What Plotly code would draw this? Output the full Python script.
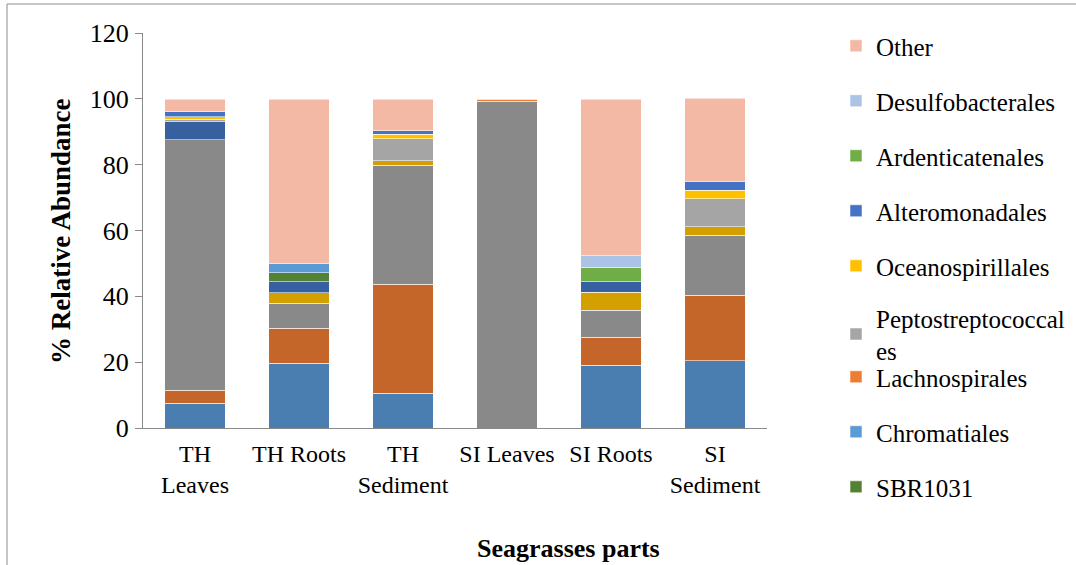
import plotly.graph_objects as go

# Sample sites along the x axis
categories = ["TH<br>Leaves", "TH Roots", "TH<br>Sediment", "SI Leaves", "SI Roots", "SI<br>Sediment"]

# % relative abundance per order, stacked bottom -> top
order_a = [7.5, 19.7, 10.5, 0, 19.1, 20.4]
order_b = [4.0, 10.6, 33.2, 0, 8.5, 19.9]
order_c = [76.0, 7.6, 36.1, 99.2, 8.1, 18.2]
order_d = [0, 3.2, 1.4, 0, 5.6, 2.7]
order_e = [5.6, 3.3, 0, 0, 3.1, 0]
lachnospirales = [0, 0, 0, 0.5, 0, 0]
peptostreptococcales = [0.7, 0, 6.7, 0, 0, 8.5]
oceanospirillales = [0.8, 0, 1.3, 0, 0, 2.6]
alteromonadales = [1.5, 0, 1.1, 0, 0, 2.7]
sbr1031 = [0, 2.8, 0, 0, 0, 0]
ardenticatenales = [0, 0, 0, 0, 4.5, 0]
chromatiales = [0, 2.7, 0, 0, 0, 0]
desulfobacterales = [0, 0, 0, 0, 3.4, 0]
other = [3.8, 50.0, 9.5, 0.4, 47.6, 25.2]

y_ticks = [0, 20, 40, 60, 80, 100, 120]

# (name, values, colour, legend position or None when not listed)
series = [
    ("Order A", order_a, "#4A7EB0", None),
    ("Order B", order_b, "#C4652A", None),
    ("Order C", order_c, "#898989", None),
    ("Order D", order_d, "#D4A000", None),
    ("Order E", order_e, "#3760A0", None),
    ("Lachnospirales", lachnospirales, "#ED7D31", 6),
    ("Peptostreptococcal<br>es", peptostreptococcales, "#A5A5A5", 5),
    ("Oceanospirillales", oceanospirillales, "#FFC000", 4),
    ("Alteromonadales", alteromonadales, "#4472C4", 3),
    ("SBR1031", sbr1031, "#548235", 8),
    ("Ardenticatenales", ardenticatenales, "#70AD47", 2),
    ("Chromatiales", chromatiales, "#5B9BD5", 7),
    ("Desulfobacterales", desulfobacterales, "#ABC4E6", 1),
    ("Other", other, "#F4B9A5", 0),
]

# Plot-area geometry in pixels (used to place legend rows)
W, H = 1076, 565
L, R, T, B = 143, 309, 33, 137
plot_w = W - L - R
plot_h = H - T - B

# Vertical centre of each legend row in pixels
legend_rows = [46, 101, 156, 211, 266, 334, 377, 432, 487]

FONT = "Liberation Serif, Times New Roman, serif"

fig = go.Figure()
for name, vals, color, pos in series:
    legend_id = "legend"
    if pos is not None and pos > 0:
        legend_id = f"legend{pos + 1}"
    plain = name.replace("<br>", "")
    fig.add_trace(go.Bar(
        x=categories,
        y=[v if v else None for v in vals],
        name=name,
        marker=dict(color=color, line=dict(color="rgba(255,255,255,0.55)", width=1)),
        showlegend=pos is not None,
        legend=legend_id,
        hovertemplate="%{x}: %{y}%<extra>" + plain + "</extra>",
    ))

legend_layout = {}
for i, py in enumerate(legend_rows):
    key = "legend" if i == 0 else f"legend{i + 1}"
    legend_layout[key] = dict(
        x=(836 - L) / plot_w,
        xanchor="left",
        y=(H - B - py) / plot_h,
        yanchor="middle",
        bgcolor="rgba(0,0,0,0)",
        font=dict(family=FONT, size=25, color="black"),
        itemclick=False,
        itemdoubleclick=False,
    )

fig.update_layout(
    width=W,
    height=H,
    margin=dict(l=L, r=R, t=T, b=B, autoexpand=False),
    barmode="stack",
    bargap=0.42,
    plot_bgcolor="white",
    paper_bgcolor="white",
    font=dict(family=FONT, size=24, color="black"),
    xaxis=dict(
        showline=True,
        linecolor="#8A8A8A",
        linewidth=1,
        ticks="",
        showgrid=False,
        ticklabelstandoff=4,
        tickfont=dict(family=FONT, size=24, color="black"),
    ),
    yaxis=dict(
        range=[0, 120],
        tickvals=y_ticks,
        showline=True,
        linecolor="#8A8A8A",
        linewidth=1,
        ticks="outside",
        ticklen=7,
        tickcolor="#8A8A8A",
        showgrid=False,
        zeroline=False,
        ticklabelstandoff=1,
        tickfont=dict(family=FONT, size=26, color="black"),
    ),
    annotations=[
        dict(
            text="<b>% Relative Abundance</b>", textangle=-90,
            xref="paper", yref="paper",
            x=(61 - L) / plot_w, y=(H - B - 231) / plot_h,
            xanchor="center", yanchor="middle", showarrow=False,
            font=dict(family=FONT, size=27, color="black"),
        ),
        dict(
            text="<b>Seagrasses parts</b>",
            xref="paper", yref="paper",
            x=(568 - L) / plot_w, y=(H - B - 548) / plot_h,
            xanchor="center", yanchor="middle", showarrow=False,
            font=dict(family=FONT, size=26, color="black"),
        ),
    ],
    shapes=[
        dict(
            type="rect", xref="paper", yref="paper",
            x0=(7 - L) / plot_w, x1=(W + 10 - L) / plot_w,
            y0=(H - B - (H + 10)) / plot_h, y1=(H - B - 4) / plot_h,
            line=dict(color="#8C8C8C", width=1),
            fillcolor="rgba(0,0,0,0)", layer="below",
        )
    ],
    **legend_layout,
)

fig.write_html("out.html")
